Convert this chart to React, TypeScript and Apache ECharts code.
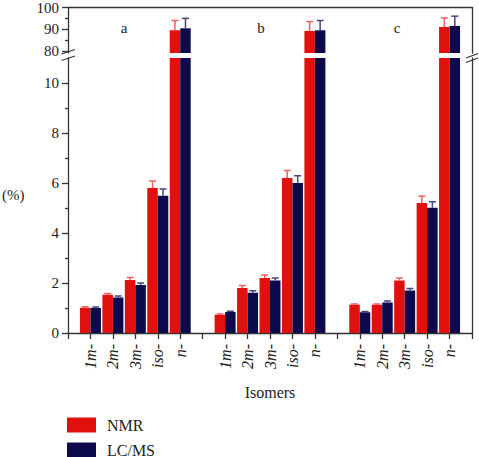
import React, { useEffect, useRef } from "react";
import * as echarts from "echarts";

const GROUPS = ["a", "b", "c"];
const ISOMERS = ["1m-", "2m-", "3m-", "iso-", "n-"];
const NMR = [
  [1.01, 1.53, 2.12, 5.8, 89.5],
  [0.73, 1.8, 2.2, 6.2, 89.2],
  [1.13, 1.13, 2.1, 5.2, 91.0],
];
const NMR_ERR = [
  [0.04, 0.05, 0.1, 0.28, 4.5],
  [0.03, 0.1, 0.12, 0.3, 4.3],
  [0.03, 0.03, 0.1, 0.27, 4.2],
];
const LCMS = [
  [1.0, 1.42, 1.92, 5.49, 90.4],
  [0.84, 1.61, 2.1, 6.0, 89.5],
  [0.83, 1.22, 1.7, 5.01, 91.5],
];
const LCMS_ERR = [
  [0.04, 0.06, 0.08, 0.27, 4.6],
  [0.03, 0.08, 0.1, 0.29, 4.5],
  [0.03, 0.06, 0.08, 0.24, 4.5],
];
const TOP_TICKS = [80, 90, 100];
const TOP_MINOR = [85, 95];
const BOT_TICKS = [0, 2, 4, 6, 8, 10];
const BOT_MINOR = [1, 3, 5, 7, 9];

const FONT = "Liberation Serif";
const RED = "#e0100c";
const NAVY = "#0c0a4a";
const RED_ERR = "#f06060";
const NAVY_ERR = "#44447e";
const AXIS = "#333";

export default function App() {
  const ref = useRef<HTMLDivElement>(null);
  useEffect(() => {
    document.body.style.margin = "0";
    const chart = echarts.init(ref.current!, undefined, { renderer: "svg" });

    const cats: string[] = [""];
    GROUPS.forEach(() => {
      ISOMERS.forEach((s) => cats.push(s));
      cats.push("");
    });
    const idx = (g: number, j: number) => 1 + g * 6 + j;
    const fullArr = (src: number[][], onlyN: boolean) => {
      const arr: (number | null)[] = cats.map(() => null);
      src.forEach((row, g) =>
        row.forEach((v, j) => {
          if (!onlyN || j === 4) arr[idx(g, j)] = v;
        })
      );
      return arr;
    };
    const errData = (src: number[][], err: number[][], top: boolean) => {
      const out: number[][] = [];
      src.forEach((row, g) =>
        row.forEach((v, j) => {
          if ((j === 4) === top) out.push([idx(g, j), v, v + err[g][j]]);
        })
      );
      return out;
    };
    const errSeries = (
      data: number[][],
      xi: number,
      yi: number,
      color: string,
      offset: number
    ) => ({
      type: "custom",
      xAxisIndex: xi,
      yAxisIndex: yi,
      data,
      encode: { x: 0, y: [1, 2] },
      z: 3,
      renderItem: (params: any, api: any) => {
        const x = api.value(0);
        const p0 = api.coord([x, api.value(1)]);
        const p1 = api.coord([x, api.value(2)]);
        const cx = p0[0] + offset;
        return {
          type: "group",
          children: [
            {
              type: "line",
              shape: { x1: cx, y1: p0[1], x2: cx, y2: p1[1] },
              style: { stroke: color, lineWidth: 1.5 },
            },
            {
              type: "line",
              shape: { x1: cx - 3.5, y1: p1[1], x2: cx + 3.5, y2: p1[1] },
              style: { stroke: color, lineWidth: 1.5 },
            },
          ],
        };
      },
    });

    const labelStyle = { fontFamily: FONT, fontSize: 15, color: "#222" };
    const mainY = (gi: number, min: number, max: number, ticks: number[]) => ({
      gridIndex: gi,
      type: "value",
      min,
      max,
      position: "left",
      axisLine: { show: true, lineStyle: { color: AXIS, width: 1.3 } },
      axisTick: { show: true, customValues: ticks, length: 6, lineStyle: { color: AXIS, width: 1.3 } },
      axisLabel: { show: true, customValues: ticks, margin: 9, ...labelStyle },
      splitLine: { show: false },
    });
    const minorY = (gi: number, min: number, max: number, ticks: number[]) => ({
      gridIndex: gi,
      type: "value",
      min,
      max,
      position: "left",
      axisLine: { show: false },
      axisTick: { show: true, customValues: ticks, length: 3, lineStyle: { color: AXIS, width: 1.3 } },
      axisLabel: { show: false },
      splitLine: { show: false },
    });
    const rightY = (gi: number, min: number, max: number) => ({
      gridIndex: gi,
      type: "value",
      min,
      max,
      position: "right",
      axisLine: { show: true, lineStyle: { color: AXIS, width: 1.3 } },
      axisTick: { show: false },
      axisLabel: { show: false },
      splitLine: { show: false },
    });

    const barCommon = { barWidth: 10.5, barGap: "0%" };
    const legendCommon = {
      orient: "vertical",
      left: 67,
      icon: "rect",
      itemWidth: 29,
      itemHeight: 15,
      itemGap: 0,
      padding: 0,
      textStyle: { fontFamily: FONT, fontSize: 16, color: "#222", padding: [0, 0, 0, 6] },
    };

    chart.setOption({
      animation: false,
      backgroundColor: "#fff",
      grid: [
        { left: 68, right: 7, top: 6, height: 47 },
        { left: 68, right: 7, top: 58, height: 275 },
      ],
      xAxis: [
        {
          gridIndex: 0,
          type: "category",
          data: cats,
          boundaryGap: false,
          position: "top",
          axisLine: { show: true, lineStyle: { color: AXIS, width: 1.3 } },
          axisTick: { show: false },
          axisLabel: { show: false },
        },
        {
          gridIndex: 1,
          type: "category",
          data: cats,
          boundaryGap: false,
          position: "bottom",
          axisLine: { show: true, onZero: false, lineStyle: { color: AXIS, width: 1.3 } },
          axisTick: { show: true, interval: 0, length: 6, lineStyle: { color: AXIS, width: 1.3 } },
          axisLabel: {
            show: true,
            interval: 0,
            rotate: 90,
            margin: 11,
            fontStyle: "italic",
            ...labelStyle,
            fontSize: 16,
          },
          name: "Isomers",
          nameLocation: "middle",
          nameGap: 51,
          nameTextStyle: { fontFamily: FONT, fontSize: 16, color: "#222" },
        },
      ],
      yAxis: [
        mainY(0, 79, 100, TOP_TICKS),
        minorY(0, 79, 100, TOP_MINOR),
        rightY(0, 79, 100),
        mainY(1, 0, 11, BOT_TICKS),
        minorY(1, 0, 11, BOT_MINOR),
        rightY(1, 0, 11),
      ],
      legend: [
        { ...legendCommon, data: ["NMR"], top: 417 },
        { ...legendCommon, data: ["LC/MS"], top: 442 },
      ],
      series: [
        { name: "NMR", type: "bar", xAxisIndex: 1, yAxisIndex: 3, data: fullArr(NMR, false), itemStyle: { color: RED }, ...barCommon },
        { name: "LC/MS", type: "bar", xAxisIndex: 1, yAxisIndex: 3, data: fullArr(LCMS, false), itemStyle: { color: NAVY }, ...barCommon },
        { name: "NMR", type: "bar", xAxisIndex: 0, yAxisIndex: 0, data: fullArr(NMR, true), itemStyle: { color: RED }, ...barCommon },
        { name: "LC/MS", type: "bar", xAxisIndex: 0, yAxisIndex: 0, data: fullArr(LCMS, true), itemStyle: { color: NAVY }, ...barCommon },
        errSeries(errData(NMR, NMR_ERR, false), 1, 3, RED_ERR, -5.25),
        errSeries(errData(LCMS, LCMS_ERR, false), 1, 3, NAVY_ERR, 5.25),
        errSeries(errData(NMR, NMR_ERR, true), 0, 0, RED_ERR, -5.25),
        errSeries(errData(LCMS, LCMS_ERR, true), 0, 0, NAVY_ERR, 5.25),
      ],
      graphic: [
        { type: "text", left: 2, top: 187, style: { text: "(%)", fontFamily: FONT, fontSize: 15, fill: "#222" } },
        { type: "text", x: 124, y: 28, style: { text: GROUPS[0], fontFamily: FONT, fontSize: 15, fill: "#222", align: "center", verticalAlign: "middle" } },
        { type: "text", x: 261, y: 28, style: { text: GROUPS[1], fontFamily: FONT, fontSize: 15, fill: "#222", align: "center", verticalAlign: "middle" } },
        { type: "text", x: 397, y: 28, style: { text: GROUPS[2], fontFamily: FONT, fontSize: 15, fill: "#222", align: "center", verticalAlign: "middle" } },
        { type: "line", shape: { x1: 61.5, y1: 54, x2: 75, y2: 49.5 }, style: { stroke: AXIS, lineWidth: 1.3 } },
        { type: "line", shape: { x1: 61.5, y1: 60.5, x2: 75, y2: 56 }, style: { stroke: AXIS, lineWidth: 1.3 } },
        { type: "line", shape: { x1: 466, y1: 58, x2: 478, y2: 53.5 }, style: { stroke: AXIS, lineWidth: 1.3 } },
        { type: "line", shape: { x1: 466, y1: 62.5, x2: 478, y2: 58 }, style: { stroke: AXIS, lineWidth: 1.3 } },
      ],
    });
    return () => chart.dispose();
  }, []);
  return <div ref={ref} style={{ width: 479, height: 457 }} />;
}
